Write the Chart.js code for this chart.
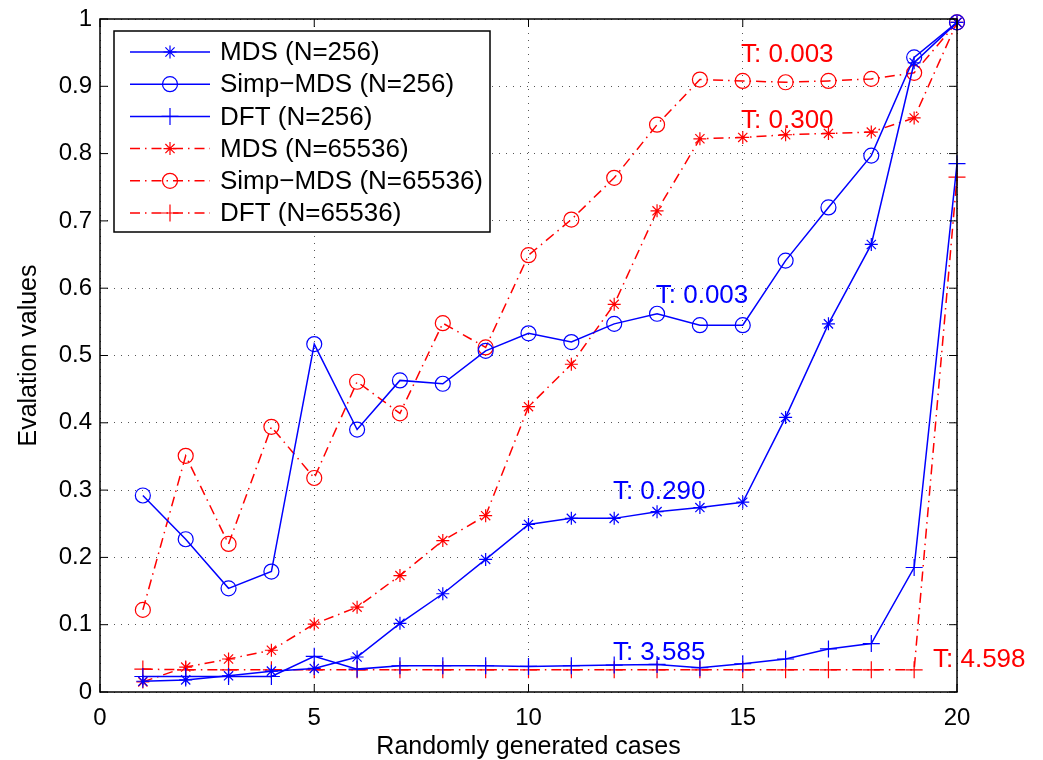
<!DOCTYPE html>
<html>
<head>
<meta charset="utf-8">
<script src="https://cdn.jsdelivr.net/npm/chart.js@4.4.0/dist/chart.umd.min.js"></script>
<style>
  html, body { margin: 0; padding: 0; background: #fff; }
  #wrap { width: 1043px; height: 760px; }
</style>
</head>
<body>
<div id="wrap"><canvas id="chart" width="1043" height="760"></canvas></div>
<script>
// values
const cases = [1, 2, 3, 4, 5, 6, 7, 8, 9, 10, 11, 12, 13, 14, 15, 16, 17, 18, 19, 20];

const mds256 = [0.016, 0.018, 0.024, 0.031, 0.035, 0.052, 0.102, 0.146, 0.197, 0.249,
                0.258, 0.258, 0.268, 0.274, 0.282, 0.408, 0.547, 0.665, 0.935, 0.995];
const simp256 = [0.292, 0.227, 0.154, 0.179, 0.517, 0.390, 0.463, 0.458, 0.507, 0.533,
                 0.520, 0.547, 0.562, 0.545, 0.545, 0.641, 0.720, 0.797, 0.943, 0.995];
const dft256 = [0.023, 0.023, 0.023, 0.023, 0.053, 0.034, 0.039, 0.039, 0.039, 0.038,
                0.039, 0.040, 0.041, 0.036, 0.042, 0.049, 0.064, 0.072, 0.185, 0.785];
const mds65536 = [0.015, 0.037, 0.049, 0.062, 0.101, 0.126, 0.173, 0.225, 0.262, 0.424,
                  0.487, 0.576, 0.715, 0.822, 0.824, 0.828, 0.830, 0.832, 0.853, 0.995];
const simp65536 = [0.122, 0.351, 0.220, 0.394, 0.318, 0.461, 0.414, 0.548, 0.512, 0.649,
                   0.702, 0.764, 0.843, 0.910, 0.908, 0.906, 0.908, 0.911, 0.920, 0.995];
const dft65536 = [0.034, 0.033, 0.033, 0.033, 0.033, 0.033, 0.033, 0.033, 0.033, 0.033,
                  0.033, 0.033, 0.033, 0.033, 0.033, 0.033, 0.033, 0.033, 0.033, 0.765];

const seriesNames = ['MDS (N=256)', 'Simp\u2212MDS (N=256)', 'DFT (N=256)',
                     'MDS (N=65536)', 'Simp\u2212MDS (N=65536)', 'DFT (N=65536)'];

const xTicks = [0, 5, 10, 15, 20];
const yTicks = [0, 0.1, 0.2, 0.3, 0.4, 0.5, 0.6, 0.7, 0.8, 0.9, 1];

// timing notes written on the plot
const notes = [
  { text: 'T: 0.003', x: 14.96, y: 0.936, color: '#ff0000' },
  { text: 'T: 0.300', x: 14.96, y: 0.838, color: '#ff0000' },
  { text: 'T: 0.003', x: 12.97, y: 0.578, color: '#0000ff' },
  { text: 'T: 0.290', x: 11.97, y: 0.287, color: '#0000ff' },
  { text: 'T: 3.585', x: 11.97, y: 0.048, color: '#0000ff' },
  { text: 'T: 4.598', x: 19.44, y: 0.037, color: '#ff0000' }
];

const FONT = '"Liberation Sans", Arial, Helvetica, sans-serif';
const BLUE = '#0000ff';
const RED = '#ff0000';
const DASHDOT = [10, 5, 1.5, 5];

const toPoints = (ys) => ys.map((y, i) => ({ x: cases[i], y: y }));

const makeSet = (i, ys, color, style, radius, dash) => ({
  label: seriesNames[i],
  data: toPoints(ys),
  borderColor: color,
  borderWidth: 1.5,
  borderDash: dash,
  pointStyle: style,
  pointRadius: radius,
  pointBorderColor: color,
  pointBackgroundColor: 'rgba(0,0,0,0)',
  pointBorderWidth: 1.2,
  tension: 0,
  clip: false
});

const datasets = [
  makeSet(0, mds256, BLUE, 'star', 6.5, []),
  makeSet(1, simp256, BLUE, 'circle', 7.5, []),
  makeSet(2, dft256, BLUE, 'cross', 8.5, []),
  makeSet(3, mds65536, RED, 'star', 6.5, DASHDOT),
  makeSet(4, simp65536, RED, 'circle', 7.5, DASHDOT),
  makeSet(5, dft65536, RED, 'cross', 8.5, DASHDOT)
];

function drawMarker(ctx, style, x, y, r) {
  ctx.beginPath();
  if (style === 'circle') {
    ctx.arc(x, y, r, 0, Math.PI * 2);
  } else {
    ctx.moveTo(x - r, y); ctx.lineTo(x + r, y);
    ctx.moveTo(x, y - r); ctx.lineTo(x, y + r);
    if (style === 'star') {
      const d = r * Math.SQRT1_2;
      ctx.moveTo(x - d, y - d); ctx.lineTo(x + d, y + d);
      ctx.moveTo(x - d, y + d); ctx.lineTo(x + d, y - d);
    }
  }
  ctx.stroke();
}

const decorations = {
  id: 'decorations',
  afterDraw(chart) {
    const ctx = chart.ctx;
    const a = chart.chartArea;
    const xs = chart.scales.x, ys = chart.scales.y;
    ctx.save();

    // frame and inward ticks
    ctx.strokeStyle = '#000';
    ctx.lineWidth = 1.5;
    ctx.setLineDash([]);
    ctx.strokeRect(a.left, a.top, a.right - a.left, a.bottom - a.top);
    ctx.lineWidth = 1;
    ctx.beginPath();
    xTicks.forEach(v => {
      const px = xs.getPixelForValue(v);
      ctx.moveTo(px, a.bottom); ctx.lineTo(px, a.bottom - 8);
      ctx.moveTo(px, a.top); ctx.lineTo(px, a.top + 8);
    });
    yTicks.forEach(v => {
      const py = ys.getPixelForValue(v);
      ctx.moveTo(a.left, py); ctx.lineTo(a.left + 8, py);
      ctx.moveTo(a.right, py); ctx.lineTo(a.right - 8, py);
    });
    ctx.stroke();

    // axis titles
    ctx.fillStyle = '#000';
    ctx.font = '25px ' + FONT;
    ctx.textAlign = 'center';
    ctx.textBaseline = 'middle';
    ctx.fillText('Randomly generated cases', (a.left + a.right) / 2, 747);
    ctx.save();
    ctx.translate(29, (a.top + a.bottom) / 2);
    ctx.rotate(-Math.PI / 2);
    ctx.fillText('Evalation values', 0, 0);
    ctx.restore();

    // notes
    ctx.font = '26px ' + FONT;
    ctx.textAlign = 'left';
    ctx.textBaseline = 'alphabetic';
    notes.forEach(n => {
      ctx.fillStyle = n.color;
      ctx.fillText(n.text, xs.getPixelForValue(n.x), ys.getPixelForValue(n.y));
    });

    // legend box
    const bx = 114, by = 31, bw = 376, bh = 201;
    ctx.fillStyle = '#fff';
    ctx.fillRect(bx, by, bw, bh);
    ctx.strokeStyle = '#000';
    ctx.lineWidth = 1.5;
    ctx.strokeRect(bx, by, bw, bh);
    ctx.font = '26px ' + FONT;
    ctx.textBaseline = 'middle';
    chart.data.datasets.forEach((ds, i) => {
      const y = by + 21 + i * 32.2;
      ctx.strokeStyle = ds.borderColor;
      ctx.lineWidth = ds.borderWidth;
      ctx.setLineDash(ds.borderDash);
      ctx.beginPath();
      ctx.moveTo(130, y); ctx.lineTo(210, y);
      ctx.stroke();
      ctx.setLineDash([]);
      ctx.lineWidth = ds.pointBorderWidth;
      drawMarker(ctx, ds.pointStyle, 170, y, ds.pointRadius);
      ctx.fillStyle = '#000';
      ctx.fillText(ds.label, 220, y + 1);
    });
    ctx.restore();
  }
};

new Chart(document.getElementById('chart'), {
  type: 'line',
  data: { datasets: datasets },
  options: {
    responsive: false,
    animation: false,
    events: [],
    layout: { padding: { top: 19, right: 86, left: 0, bottom: 0 } },
    plugins: { legend: { display: false }, tooltip: { enabled: false } },
    scales: {
      x: {
        type: 'linear',
        min: 0,
        max: 20,
        afterFit(scale) { scale.height = 68; scale.paddingLeft = 0; scale.paddingRight = 0; },
        afterBuildTicks(scale) { scale.ticks = xTicks.map(v => ({ value: v })); },
        grid: { color: '#555', lineWidth: 1, drawTicks: false },
        border: { display: false, dash: [1, 6] },
        ticks: { padding: 12, color: '#000', font: { family: FONT, size: 24 }, maxRotation: 0 }
      },
      y: {
        min: 0,
        max: 1,
        afterFit(scale) { scale.width = 100; scale.paddingTop = 0; scale.paddingBottom = 0; },
        afterBuildTicks(scale) { scale.ticks = yTicks.map(v => ({ value: v })); },
        grid: { color: '#555', lineWidth: 1, drawTicks: false },
        border: { display: false, dash: [1, 6] },
        ticks: {
          padding: 8,
          color: '#000',
          font: { family: FONT, size: 24 },
          callback: (v) => (v === 0 || v === 1) ? String(v) : v.toFixed(1)
        }
      }
    }
  },
  plugins: [decorations]
});
</script>
</body>
</html>
